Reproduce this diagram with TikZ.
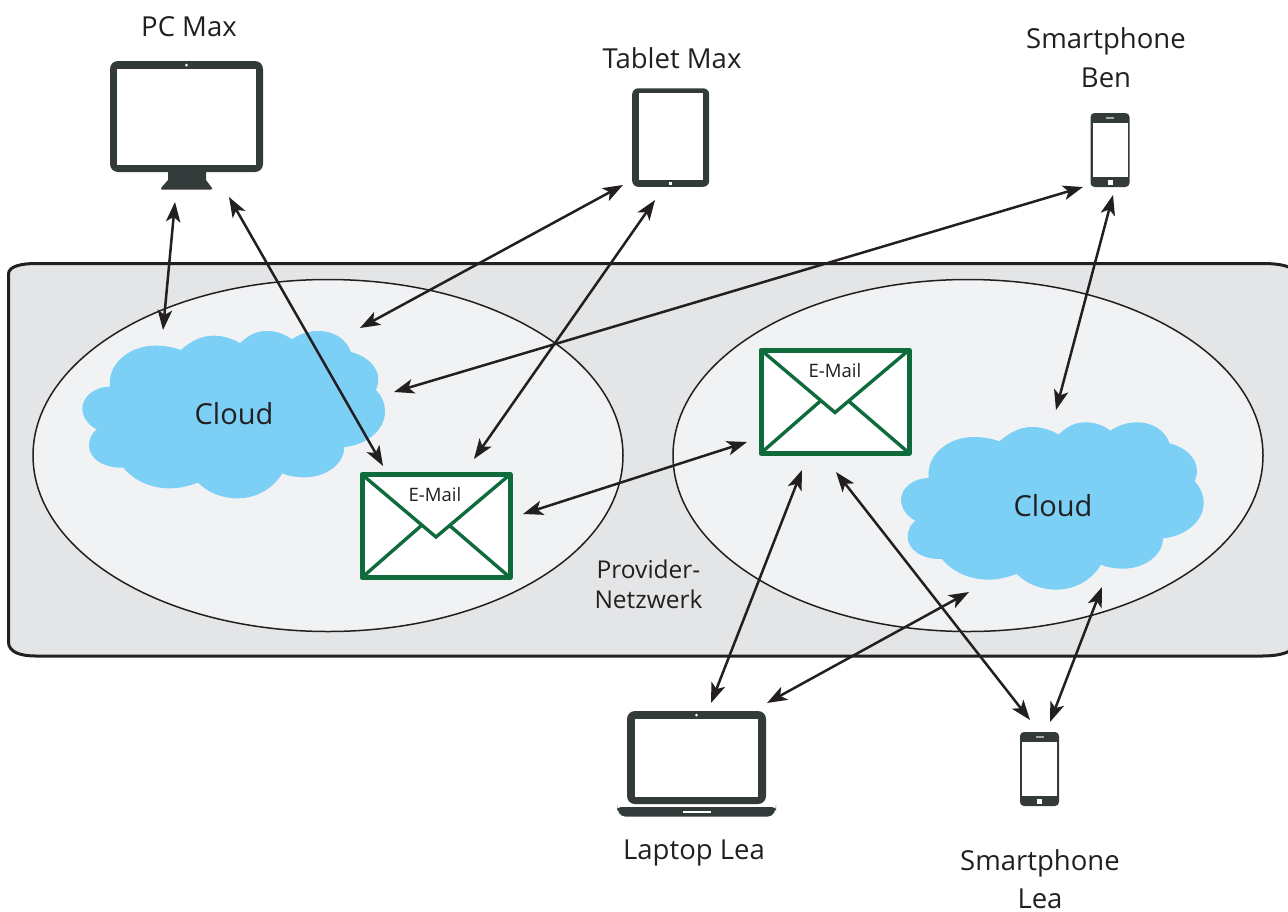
\documentclass[tikz,border=0pt]{standalone}
\usepackage{fontspec}
\setmainfont{Open Sans}
\usetikzlibrary{arrows.meta,shapes.geometric}
\definecolor{dev}{HTML}{333A3A}
\definecolor{ink}{HTML}{231F20}
\definecolor{net}{HTML}{E4E5E7}
\definecolor{oval}{HTML}{F1F2F4}
\definecolor{cloudc}{HTML}{7CCFF5}
\definecolor{mail}{HTML}{0F6B3C}
\tikzset{
  x=1pt,y=-1pt,
  link/.style={draw=ink,line width=2.5pt,{Stealth[length=20pt,width=14.5pt,inset=5pt]}-{Stealth[length=20pt,width=14.5pt,inset=5pt]}},
  lbl/.style={font=\fontsize{27.5}{38.5}\selectfont,text=ink,align=center,inner sep=0pt},
  cloudlbl/.style={font=\fontsize{29}{35}\selectfont,text=ink,inner sep=0pt},
  maillbl/.style={font=\fontsize{18.5}{22}\selectfont,text=ink,inner sep=0pt},
  provlbl/.style={font=\fontsize{24.5}{29.5}\selectfont,text=ink,align=center,inner sep=0pt},
  envbox/.style={draw=mail,line width=5pt,fill=white,minimum width=148pt,minimum height=103pt,inner sep=0pt,outer sep=0pt,line join=round},
  flap/.style={draw=mail,line width=3.4pt},
  ovalshape/.style={draw=ink,line width=1.5pt,fill=oval,ellipse,minimum width=590pt,minimum height=352pt,inner sep=0pt},
  screen/.style={fill=white,inner sep=0pt,outer sep=0pt,anchor=north west},
  casing/.style={fill=dev,rounded corners=8pt,inner sep=0pt,outer sep=0pt,anchor=north west},
  cloudpart/.style={fill=cloudc,draw=none},
  netshape/.style={draw=ink,line width=3pt,fill=net},
}
\newcommand{\phoneicon}[2]{%
  \fill[dev,rounded corners=4pt] (#1-19.5,#2-37) rectangle (#1+19.5,#2+37);
  \fill[white] (#1-17.5,#2-27.5) rectangle (#1+17.5,#2+27);
  \fill[gray!70] (#1-4,#2-33.5) rectangle (#1+4,#2-31.5);
  \fill[white] (#1-2.5,#2+29.5) rectangle (#1+2.5,#2+34.5);
}
\newcommand{\cloudblob}{%
  \fill[cloudpart] (120,200)
   .. controls (112,130) and (180,77) .. (255,77)
   .. controls (285,77) and (310,82) .. (332,90)
   .. controls (365,62) and (395,47) .. (430,47)
   .. controls (460,47) and (490,57) .. (510,70)
   .. controls (535,45) and (560,33) .. (590,33)
   .. controls (618,33) and (645,42) .. (665,58)
   .. controls (690,42) and (715,33) .. (745,33)
   .. controls (795,33) and (830,60) .. (843,96)
   .. controls (890,108) and (925,140) .. (925,178)
   .. controls (925,190) and (922,200) .. (918,210)
   .. controls (935,228) and (945,250) .. (945,275)
   .. controls (945,330) and (890,375) .. (823,381)
   .. controls (823,430) and (770,472) .. (703,472)
   .. controls (680,472) and (655,468) .. (637,460)
   .. controls (610,505) and (560,535) .. (503,535)
   .. controls (455,535) and (415,518) .. (384,488)
   .. controls (355,498) and (330,505) .. (300,505)
   .. controls (240,505) and (190,480) .. (160,443)
   .. controls (100,445) and (57,415) .. (57,377)
   .. controls (57,358) and (65,340) .. (80,328)
   .. controls (55,315) and (37,292) .. (37,265)
   .. controls (37,230) and (75,200) .. (120,200) -- cycle;
}
\begin{document}
\begin{tikzpicture}
\useasboundingbox (0,0) rectangle (1288,911);
% provider network
\begin{scope}
\clip (0,0) rectangle (1288,911);
\draw[netshape] (8.5,274) .. controls (8.5,266) and (22,263.5) .. (36,263.5) -- (1262,263.5)
  .. controls (1280,263.5) and (1296,266) .. (1296,276) -- (1296,642)
  .. controls (1296,652) and (1280,656) .. (1262,656) -- (36,656)
  .. controls (20,656) and (8.5,652) .. (8.5,642) -- cycle;
\end{scope}
\node[ovalshape] (ovalL) at (328,455.5) {};
\node[ovalshape] (ovalR) at (968,455.5) {};
% clouds
\begin{scope}[shift={(70,320)},x=0.3333pt,y=-0.3333pt]\cloudblob\end{scope}
\begin{scope}[shift={(888.67,411.33)},x=0.3333pt,y=-0.3333pt]\cloudblob\end{scope}
\node[cloudlbl] (cloudL) at (234,414) {Cloud};
\node[cloudlbl] (cloudR) at (1053,506) {Cloud};
% envelopes
\node[envbox] (envL) at (436,526) {};
\draw[flap] (envL.north west) -- (436,537) -- (envL.north east);
\draw[flap] (envL.south west) -- (422,525);
\draw[flap] (envL.south east) -- (449,525);
\node[maillbl] (mailL) at (435,495) {E-Mail};
\node[envbox] (envR) at (835,401.5) {};
\draw[flap] (envR.north west) -- (835,412.5) -- (envR.north east);
\draw[flap] (envR.south west) -- (821,400.5);
\draw[flap] (envR.south east) -- (848,400.5);
\node[maillbl] (mailR) at (835,371) {E-Mail};
\node[provlbl] (prov) at (648.5,584.5) {Provider-\\Netzwerk};
% PC
\node[casing,minimum width=153pt,minimum height=111pt] (pc) at (110,61) {};
\node[screen,minimum width=139pt,minimum height=96.5pt] (pcs) at (117,68.5) {};
\fill[dev] (168,172) -- (206,172) -- (206,180) -- (212,188) [rounded corners=1pt] -- (212,189.5) -- (161,189.5) -- (161,188) [sharp corners] -- (168,180) -- cycle;
\fill[white] (186.5,65) circle (1.5);
\node[lbl] (pcl) at (189,27) {PC Max};
% Tablet
\node[casing,minimum width=77pt,minimum height=98.5pt,rounded corners=6pt] (tab) at (632.2,88.3) {};
\node[screen,minimum width=64pt,minimum height=86.7pt] (tabs) at (638.7,93.3) {};
\fill[white] (668.8,181.8) rectangle (672.2,185);
\node[lbl] (tabl) at (672,58) {Tablet Max};
% Phone Ben
\phoneicon{1110}{150}
\node[lbl] (benl) at (1106,57.5) {Smartphone\\Ben};
% Phone Lea
\phoneicon{1039.5}{769}
\node[lbl] (leal) at (1040,879) {Smartphone\\Lea};
% Laptop
\node[casing,minimum width=139pt,minimum height=93pt] (lap) at (627,711) {};
\node[screen,minimum width=123pt,minimum height=78pt] (laps) at (635,719) {};
\fill[white] (696.5,715) circle (1.5);
\fill[dev,rounded corners=4pt] (617,807) -- (776,807) -- (776,809) -- (772,816.5) -- (621,816.5) -- (617,809) -- cycle;
\fill[white] (683,810.5) rectangle (711,812.5);
\node[lbl] (lapl) at (694,853) {Laptop Lea};
% connector ends
\foreach \n/\px/\py in {a1/175/202,a2/163/330,b1/229/197,b2/383/466,c1/623/185,c2/360/328,d1/655/200,d2/474/459,e1/1083/187,e2/394/392,f1/1113/195,f2/1056/410,g1/523/514,g2/747/442,h1/802/470,h2/711/703,i1/969/592,i2/767/703,j1/836/472,j2/1030/720,k1/1102/587,k2/1050/722}{
  \coordinate (\n) at (\px,\py);
}
\draw[link] (a1) -- (a2);
\draw[link] (b1) -- (b2);
\draw[link] (c1) -- (c2);
\draw[link] (d1) -- (d2);
\draw[link] (e1) -- (e2);
\draw[link] (f1) -- (f2);
\draw[link] (g1) -- (g2);
\draw[link] (h1) -- (h2);
\draw[link] (i1) -- (i2);
\draw[link] (j1) -- (j2);
\draw[link] (k1) -- (k2);
\end{tikzpicture}
\end{document}
